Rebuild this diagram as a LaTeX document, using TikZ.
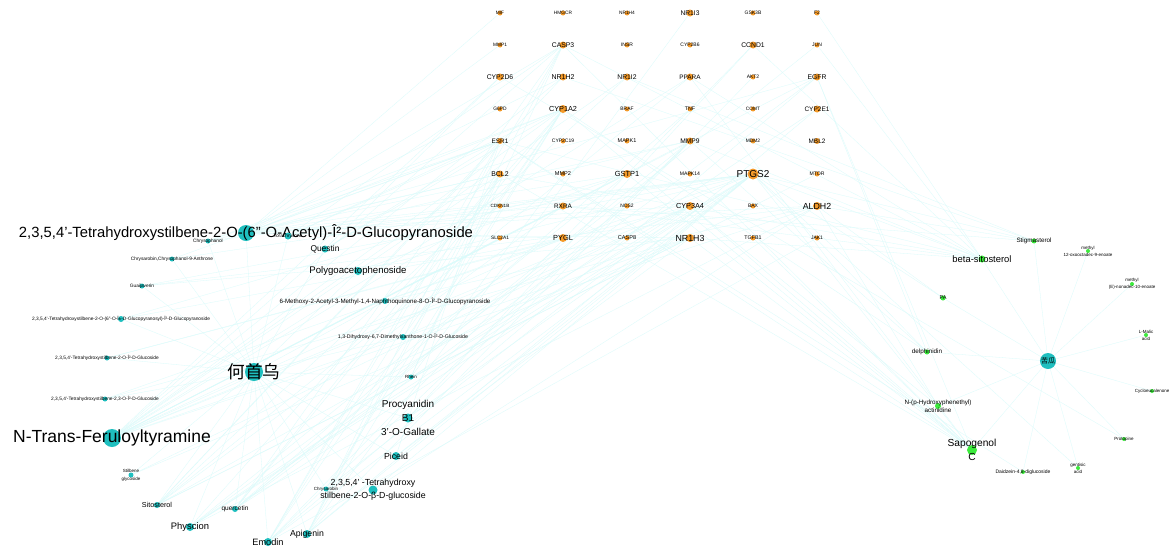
\documentclass[tikz,border=0pt]{standalone}
\usepackage{fontspec}
\setmainfont{Liberation Sans}
\newfontfamily\cjk{Noto Sans CJK SC}
\definecolor{tgc}{HTML}{F39A2A}
\definecolor{cyc}{HTML}{1FBFBF}
\definecolor{grc}{HTML}{3CEB3C}
\definecolor{edc}{RGB}{218,251,251}
\pgfdeclarelayer{bg}
\pgfsetlayers{bg,main}
\tikzset{
  dot/.style={circle, inner sep=0pt, draw=none},
  edge/.style={draw=edc, line width=0.3pt},
}
\newcommand\cn[8]{\node[dot, fill=#1, minimum size=#2pt, label={[font=\fontsize{#3}{#4}\selectfont, align=center, inner sep=0pt]center:#8}] (#5) at (#6,#7) {};}
\begin{document}
\begin{tikzpicture}[x=1pt,y=-1pt]
\useasboundingbox (0,0) rectangle (1169,552);
% targets
\foreach \n/\x/\y/\f/\d in {
 MIF/500/13/4.8/5, HMGCR/563/13/4.8/5, NR1H4/627/13/4.8/5, NR1I3/690/13/6.7/7, GSK3B/753/13/5/5, F2/817/13/5/5,
 MMP1/500/45/4.8/5, CASP3/563/45/6.8/7, INSR/627/45/5/5, CYP2B6/690/45/5/5, CCND1/753/45/6.8/7, JUN/817/45/5/5,
 CYP2D6/500/77/6.8/7, NR1H2/563/77/7/7, NR1I2/627/77/6.8/7, PPARA/690/77/6.4/7, AKT2/753/77/5/5, EGFR/817/77/6.8/7,
 G6PD/500/109/4.9/5, CYP1A2/563/109/7.3/8, BRAF/627/109/4.9/5, TNF/690/109/5.3/5, COMT/753/109/4.8/5, CYP2E1/817/109/6.5/7,
 ESR1/500/141/6.4/6, CYP2C19/563/141/5/5, MAPK1/627/141/5.5/5, MMP9/690/141/6.7/7, MDM2/753/141/4.9/5, MBL2/817/141/6.4/6,
 BCL2/500/174/6.9/7, MMP2/563/174/5.6/5, GSTP1/627/174/7.4/8, MAPK14/690/174/5.1/5, PTGS2/753/174/10/11, MTOR/817/174/5.1/5,
 CDKN1B/500/206/4.6/5, RXRA/563/206/6.4/7, NOS2/627/206/4.9/5, CYP3A4/690/206/7.3/8, BAX/753/206/5/5, ALDH2/817/206/8.8/8,
 SLC2A1/500/238/4.8/5, PYGL/563/238/7.4/8, CASP8/627/238/5.6/5, NR1H3/690/238/8.8/8, TGFB1/753/238/5.3/5, JAK1/817/238/5/5}
 {\node[dot, fill=tgc, minimum size=\d pt, label={[font=\fontsize{\f}{\f}\selectfont, inner sep=0pt]center:\n}] (\n) at (\x,\y) {};}
% left compounds
\cn{cyc}{16}{14.8}{16}{A1}{246}{233}{2,3,5,4'-Tetrahydroxystilbene-2-O-(6"-O-Acetyl)-Î²-D-Glucopyranoside}
\cn{cyc}{5}{4.8}{5}{A2}{208}{241}{Chrysophanol}
\cn{cyc}{7}{4.8}{5}{A3}{288}{236}{Torachrysone}
\cn{cyc}{5}{4.8}{5}{A4}{172}{259}{Chrysarobin,Chrysophanol-9-Anthrone}
\cn{cyc}{5}{4.8}{5}{A5}{142}{286}{Guaijaverin}
\cn{cyc}{6}{4.8}{5}{A6}{121}{319}{2,3,5,4'-Tetrahydroxystilbene-2-O-(6"-O-Î±-D-Glucopyranosyl)-Î²-D-Glucopyranoside}
\cn{cyc}{5}{4.8}{5}{A7}{107}{358}{2,3,5,4'-Tetrahydroxystilbene-2-O-Î²-D-Glucoside}
\cn{cyc}{5}{4.8}{5}{A8}{105}{399}{2,3,5,4'-Tetrahydroxystilbene-2,3-O-Î²-D-Glucoside}
\node[dot, fill=cyc, minimum size=18pt, label={[font=\cjk\fontsize{17.7}{18}\selectfont, inner sep=0pt]center:何首乌}] (HSW) at (254,372) {};
\cn{cyc}{18}{17.5}{18}{A9}{112}{438}{N-Trans-Feruloyltyramine}
\cn{cyc}{5}{4.5}{8}{A10}{131}{475}{Stilbene\\glycoside}
\cn{cyc}{6}{7.2}{8}{A11}{157}{505}{Sitosterol}
\cn{cyc}{6}{6.5}{7}{A12}{235}{509}{quercetin}
\cn{cyc}{8}{9.4}{10}{A13}{190}{527}{Physcion}
\cn{cyc}{8}{9.2}{10}{A14}{268}{542}{Emodin}
\cn{cyc}{8}{8.7}{10}{A15}{307}{534}{Apigenin}
\cn{cyc}{5}{4.5}{5}{A16}{326}{489}{Chrysarobin}
\cn{cyc}{9}{8.8}{13}{A17}{373}{490}{2,3,5,4' -Tetrahydroxy\\stilbene-2-O-β-D-glucoside}
\cn{cyc}{8}{8.8}{10}{A18}{396}{456}{Piceid}
\cn{cyc}{9}{10}{14}{A19}{408}{418}{Procyanidin\\B1\\3'-O-Gallate}
\cn{cyc}{5}{4.5}{5}{A20}{411}{377}{Rhein}
\cn{cyc}{6}{5.2}{6}{A21}{403}{337}{1,3-Dihydroxy-6,7-Dimethylxanthone-1-O-Î²-D-Glucoside}
\cn{cyc}{6}{6.2}{7}{A22}{385}{301}{6-Methoxy-2-Acetyl-3-Methyl-1,4-Naphthoquinone-8-O-Î²-D-Glucopyranoside}
\cn{cyc}{8}{9.6}{10}{A23}{358}{271}{Polygoacetophenoside}
\cn{cyc}{7}{8.4}{9}{A24}{325}{249}{Questin}
% right compounds
\cn{grc}{5}{6.3}{7}{B1}{1034}{241}{Stigmasterol}
\cn{grc}{7}{9.4}{10}{B2}{982}{259}{beta-sitosterol}
\cn{grc}{4}{4.5}{7}{B3}{1088}{251}{methyl\\12-oxooctadec-9-enoate}
\cn{grc}{4}{4.5}{7}{B4}{1132}{284}{methyl\\(E)-nonadec-10-enoate}
\cn{grc}{5}{5.5}{6}{B5}{943}{298}{PA}
\cn{grc}{4}{4.5}{7}{B6}{1146}{335}{L-Malic\\acid}
\cn{grc}{5}{6.3}{7}{B7}{927}{352}{delphinidin}
\node[dot, fill=cyc, minimum size=16pt, label={[font=\cjk\fontsize{7}{7}\selectfont, inner sep=0pt]center:苦瓜}] (RH) at (1048,361) {};
\cn{grc}{4}{4.5}{5}{B8}{1152}{391}{Cycloeucalenone}
\cn{grc}{6}{6.3}{8.5}{B9}{938}{406}{N-(p-Hydroxyphenethyl)\\actinidine}
\cn{grc}{10}{10.2}{14}{B10}{972}{450}{Sapogenol\\C}
\cn{grc}{4}{5}{5}{B11}{1023}{472}{Daidzein-4,8-diglucoside}
\cn{grc}{4}{4.5}{7}{B12}{1078}{468}{gentisic\\acid}
\cn{grc}{4}{4.5}{5}{B13}{1124}{439}{Protopine}
% edges
\begin{pgfonlayer}{bg}
\fill[white] (0,0) rectangle (1169,552);
\foreach \a in {A1,A2,A3,A4,A5,A6,A7,A8,A9,A10,A11,A12,A13,A14,A15,A16,A17,A18,A19,A20,A21,A22,A23,A24}
  {\draw[edge] (HSW) -- (\a);}
\foreach \b in {B1,B2,B3,B4,B5,B6,B7,B8,B9,B10,B11,B12,B13}
  {\draw[edge] (RH) -- (\b);}
\foreach \s/\tl in {
 A1/{CASP3,NR1H2,CYP1A2,ESR1,BCL2,GSTP1,RXRA,PYGL,NR1H3,CYP3A4,PTGS2,MMP9,ALDH2,EGFR,MIF,MMP1},
 A2/{ESR1,CYP1A2,PTGS2,BCL2},
 A3/{CYP1A2,ESR1,MMP9,PTGS2,CASP3},
 A4/{ESR1,PTGS2},
 A5/{PTGS2,NR1H3,ALDH2},
 A6/{GSTP1,PYGL},
 A7/{PYGL,CYP3A4},
 A8/{PYGL,NR1H3},
 A9/{CASP3,CYP2D6,NR1H2,NR1I2,CYP1A2,GSTP1,PYGL,NR1H3,CYP3A4,ALDH2,PTGS2,RXRA,BCL2,MMP9,PPARA,EGFR,SLC2A1,CDKN1B},
 A10/{NR1H3,CYP3A4},
 A11/{NR1H2,NR1I2,RXRA,NR1H3,CYP3A4,PPARA,ESR1,MTOR},
 A12/{CYP1A2,PTGS2,BCL2,CASP3,EGFR,MMP9,JUN,TNF},
 A13/{CYP1A2,CYP3A4,ALDH2,PTGS2,GSTP1,CYP2E1,NOS2},
 A14/{CYP1A2,CASP3,BCL2,PTGS2,CCND1,MMP9,ESR1,EGFR,JAK1},
 A15/{CYP1A2,PTGS2,CASP3,BCL2,ESR1,CYP2E1,NR1I3,AKT2},
 A16/{CYP1A2,CYP3A4},
 A17/{PTGS2,ALDH2},
 A18/{PTGS2,ESR1,NR1H3},
 A19/{PTGS2,MMP9,CCND1},
 A20/{PTGS2,CASP3,BCL2,MMP2},
 A21/{CYP1A2,CYP3A4},
 A22/{PTGS2,ALDH2},
 A23/{PTGS2,GSTP1},
 A24/{CYP1A2,ESR1,CYP2D6},
 B1/{NR1H2,NR1I2,RXRA,PTGS2,ALDH2},
 B2/{CASP3,BCL2,PTGS2,ESR1,PPARA,NR1H3,RXRA,MMP9,CCND1,JUN,F2},
 B5/{PTGS2,ALDH2},
 B7/{EGFR,MMP9,PTGS2,CYP1A2},
 B9/{ALDH2,CYP3A4},
 B10/{CASP3,BCL2,PTGS2,NR1H3,CYP3A4,GSTP1,ESR1,CYP1A2,PPARA,EGFR,TGFB1},
 B11/{ESR1},
 B12/{PTGS2},
 B13/{CYP2D6}}
 {\foreach \t in \tl {\draw[edge] (\s) -- (\t);}}
\end{pgfonlayer}
\end{tikzpicture}
\end{document}
